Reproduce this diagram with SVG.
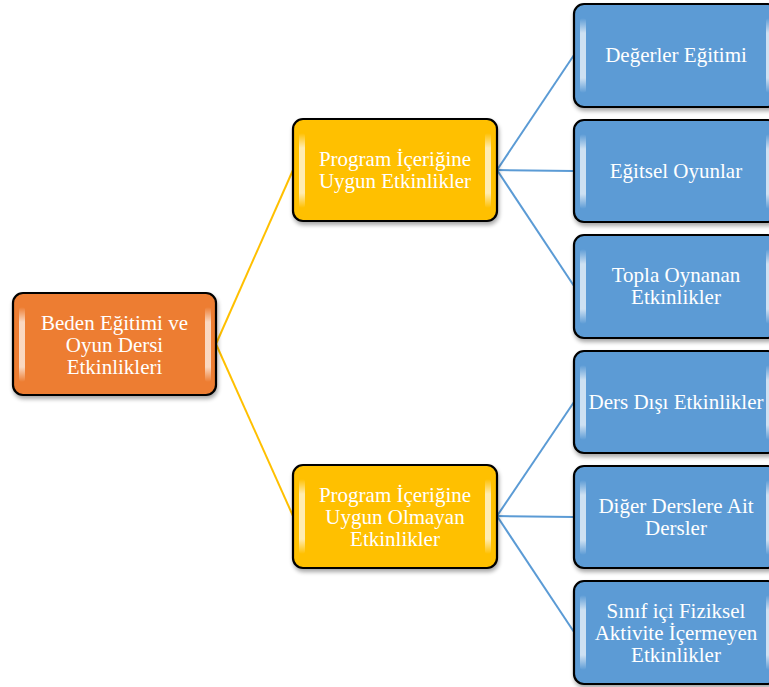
<svg xmlns="http://www.w3.org/2000/svg" width="769" height="687" viewBox="0 0 769 687">
  <style>
    .box { stroke: #000; stroke-width: 2.2; }
    .orange { fill: #ED7D31; }
    .gold { fill: #FFC000; }
    .blue { fill: #5B9BD5; }
    .shine { fill: url(#shine); }
    .lbl { font-family: "Liberation Serif", "Times New Roman", serif; font-size: 21px; fill: #fff; text-anchor: middle; }
    .c-gold { stroke: #FFC000; stroke-width: 2; fill: none; }
    .c-blue { stroke: #5B9BD5; stroke-width: 2; fill: none; }
  </style>
  <defs>
    <linearGradient id="shine" x1="0" y1="0" x2="0" y2="1">
      <stop offset="0" stop-color="#fff" stop-opacity="0"/>
      <stop offset="0.2" stop-color="#fff" stop-opacity="0.7"/>
      <stop offset="0.8" stop-color="#fff" stop-opacity="0.7"/>
      <stop offset="1" stop-color="#fff" stop-opacity="0"/>
    </linearGradient>
    <filter id="drop" x="-10%" y="-10%" width="125%" height="130%">
      <feGaussianBlur in="SourceAlpha" stdDeviation="2"/>
      <feOffset dx="1" dy="3" result="b"/>
      <feComponentTransfer><feFuncA type="linear" slope="0.35"/></feComponentTransfer>
      <feMerge><feMergeNode/><feMergeNode in="SourceGraphic"/></feMerge>
    </filter>
    <!-- side highlight strips shared by every box -->
    <g id="strips">
      <rect x="6" y="14" width="6" height="75" rx="3" class="shine"/>
      <rect x="192" y="14" width="6" height="75" rx="3" class="shine"/>
    </g>
  </defs>

  <g id="connectors">
    <line class="c-gold" x1="216" y1="344" x2="293" y2="170"/>
    <line class="c-gold" x1="216" y1="344" x2="293" y2="516"/>
    <line class="c-blue" x1="497" y1="170" x2="574" y2="55"/>
    <line class="c-blue" x1="497" y1="170" x2="574" y2="171"/>
    <line class="c-blue" x1="497" y1="170" x2="574" y2="286"/>
    <line class="c-blue" x1="497" y1="516" x2="574" y2="402"/>
    <line class="c-blue" x1="497" y1="516" x2="574" y2="517"/>
    <line class="c-blue" x1="497" y1="516" x2="574" y2="632"/>
  </g>

  <g id="root" transform="translate(13,293)">
    <rect class="box orange" width="203" height="102" rx="10" filter="url(#drop)"/>
    <use href="#strips"/>
    <text class="lbl" x="101.5" y="36.5">Beden Eğitimi ve</text>
    <text class="lbl" x="101.5" y="58.5">Oyun Dersi</text>
    <text class="lbl" x="101.5" y="80.5">Etkinlikleri</text>
  </g>

  <g id="uygun" transform="translate(293,119)">
    <rect class="box gold" width="204" height="102" rx="10" filter="url(#drop)"/>
    <use href="#strips"/>
    <text class="lbl" x="102" y="47">Program İçeriğine</text>
    <text class="lbl" x="102" y="69">Uygun Etkinlikler</text>
  </g>

  <g id="uygun-olmayan" transform="translate(293,465)">
    <rect class="box gold" width="204" height="103" rx="10" filter="url(#drop)"/>
    <use href="#strips"/>
    <text class="lbl" x="102" y="36.5">Program İçeriğine</text>
    <text class="lbl" x="102" y="58.5">Uygun Olmayan</text>
    <text class="lbl" x="102" y="80.5">Etkinlikler</text>
  </g>

  <g id="degerler" transform="translate(574,4)">
    <rect class="box blue" width="204" height="103" rx="10" filter="url(#drop)"/>
    <use href="#strips"/>
    <text class="lbl" x="102" y="58">Değerler Eğitimi</text>
  </g>

  <g id="egitsel" transform="translate(574,120)">
    <rect class="box blue" width="204" height="102" rx="10" filter="url(#drop)"/>
    <use href="#strips"/>
    <text class="lbl" x="102" y="58">Eğitsel Oyunlar</text>
  </g>

  <g id="topla" transform="translate(574,235)">
    <rect class="box blue" width="204" height="103" rx="10" filter="url(#drop)"/>
    <use href="#strips"/>
    <text class="lbl" x="102" y="47">Topla Oynanan</text>
    <text class="lbl" x="102" y="69">Etkinlikler</text>
  </g>

  <g id="ders-disi" transform="translate(574,351)">
    <rect class="box blue" width="204" height="102" rx="10" filter="url(#drop)"/>
    <use href="#strips"/>
    <text class="lbl" x="102" y="58">Ders Dışı Etkinlikler</text>
  </g>

  <g id="diger" transform="translate(574,466)">
    <rect class="box blue" width="204" height="102" rx="10" filter="url(#drop)"/>
    <use href="#strips"/>
    <text class="lbl" x="102" y="47">Diğer Derslere Ait</text>
    <text class="lbl" x="102" y="69">Dersler</text>
  </g>

  <g id="sinif-ici" transform="translate(574,581)">
    <rect class="box blue" width="204" height="103" rx="10" filter="url(#drop)"/>
    <use href="#strips"/>
    <text class="lbl" x="102" y="36.5">Sınıf içi Fiziksel</text>
    <text class="lbl" x="102" y="58.5">Aktivite İçermeyen</text>
    <text class="lbl" x="102" y="80.5">Etkinlikler</text>
  </g>
</svg>
